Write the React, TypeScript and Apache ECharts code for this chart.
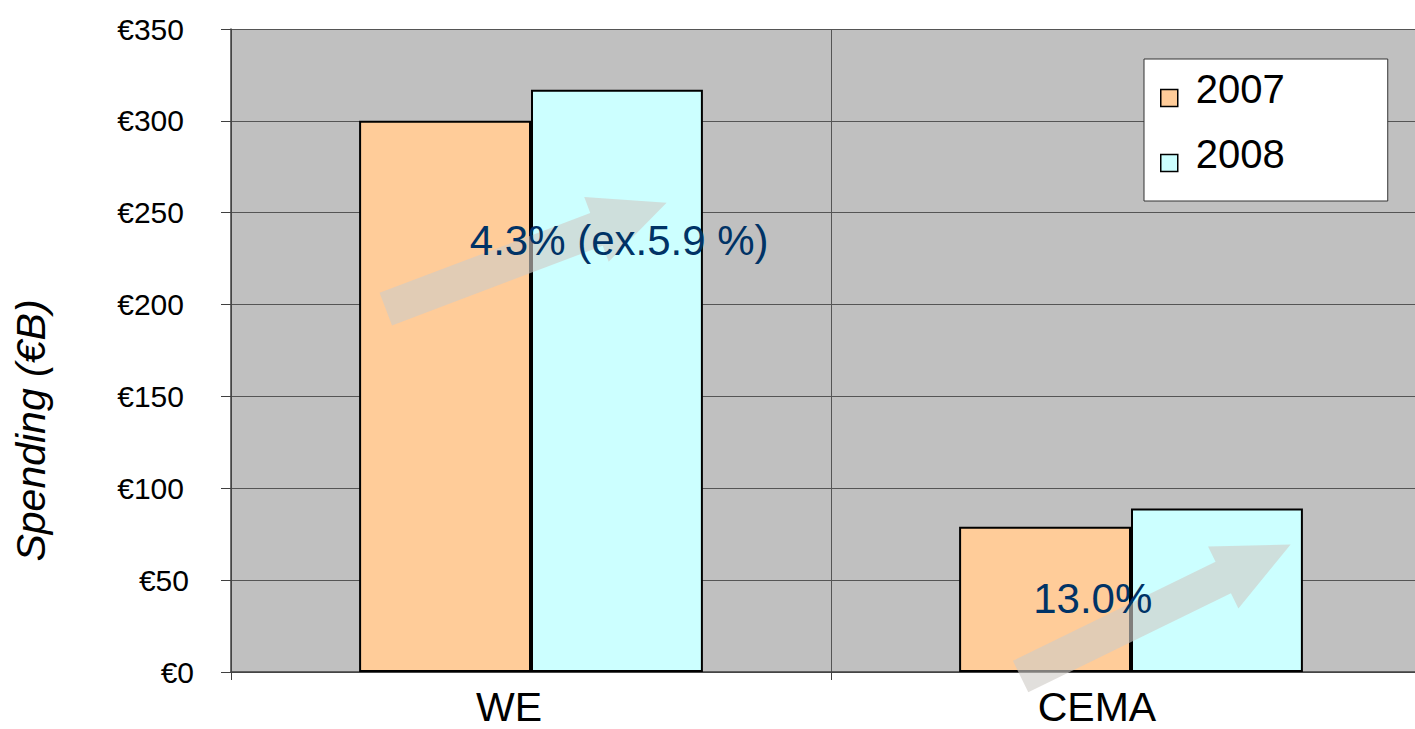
import React, { useEffect, useRef } from 'react';
import * as echarts from 'echarts';

const categories = ['WE', 'CEMA'];
const seriesNames = ['2007', '2008'];
const values2007 = [300, 79];
const values2008 = [317, 89];
const yMin = 0;
const yMax = 350;
const yInterval = 50;
const yTitle = 'Spending (€B)';
const growthLabels = ['4.3% (ex.5.9 %)', '13.0%'];
// annotation anchors: [offset within category band (fraction), value]
const labelAnchors = [[-0.102, 235], [-0.163, 40]];
const arrowTails = [[-0.242, 197.5], [-0.184, -2.5]];
const arrowTips = [[0.226, 255.4], [0.266, 69.4]];
const categoryLabelPadRight = [44, 68];

const FONT = '"Liberation Sans", Arial, Helvetica, sans-serif';

export default function App() {
  const ref = useRef<HTMLDivElement>(null);

  useEffect(() => {
    if (!ref.current) return;
    const chart = echarts.init(ref.current, null, { renderer: 'svg' });

    const catRich: Record<string, any> = {};
    categories.forEach((_, i) => {
      catRich['c' + i] = {
        fontSize: 41,
        color: '#000',
        fontFamily: FONT,
        padding: [0, categoryLabelPadRight[i], 0, 0],
      };
    });
    const yRich: Record<string, any> = {
      d1: { fontSize: 30, color: '#000', fontFamily: FONT, padding: [0, 0, 0, 0] },
      d2: { fontSize: 30, color: '#000', fontFamily: FONT, padding: [0, 5, 0, 0] },
      d3: { fontSize: 30, color: '#000', fontFamily: FONT, padding: [0, 10, 0, 0] },
    };

    const option: any = {
      animation: false,
      backgroundColor: '#ffffff',
      textStyle: { fontFamily: FONT },
      grid: {
        left: 231,
        top: 29,
        width: 1200,
        bottom: 57,
        show: true,
        backgroundColor: '#c0c0c0',
        borderWidth: 0,
        containLabel: false,
        outerBoundsMode: 'none',
      },
      legend: {
        orient: 'vertical',
        left: 1144,
        top: 59,
        backgroundColor: '#ffffff',
        borderColor: '#333333',
        borderWidth: 1,
        borderRadius: 0,
        padding: [10, 103, 9, 16],
        itemWidth: 17,
        itemHeight: 17,
        itemGap: 7,
        icon: 'rect',
        itemStyle: { borderColor: '#000', borderWidth: 1.5 },
        formatter: (name: string) => `{t|${name}}`,
        textStyle: {
          rich: {
            t: {
              fontSize: 40,
              lineHeight: 40,
              padding: [0, 0, 18, 13],
              color: '#000',
              fontFamily: FONT,
            },
          },
        },
        data: seriesNames,
      },
      xAxis: {
        type: 'category',
        data: categories,
        axisLine: { show: true, lineStyle: { color: '#404040', width: 1.5 } },
        axisTick: { show: true, length: 8, lineStyle: { color: '#404040', width: 1 } },
        splitLine: { show: true, lineStyle: { color: '#555555', width: 1 } },
        axisLabel: {
          margin: 14,
          formatter: (v: string) => `{c${categories.indexOf(v)}|${v}}`,
          rich: catRich,
        },
      },
      yAxis: {
        type: 'value',
        min: yMin,
        max: yMax,
        interval: yInterval,
        name: yTitle,
        nameLocation: 'middle',
        nameGap: 180,
        nameRotate: 90,
        nameTextStyle: {
          fontSize: 41,
          fontStyle: 'italic',
          color: '#000',
          fontFamily: FONT,
          padding: [0, 160, 0, 0],
        },
        axisLine: { show: true, lineStyle: { color: '#404040', width: 1.5 } },
        axisTick: { show: true, length: 10, lineStyle: { color: '#404040', width: 1 } },
        splitLine: { show: true, lineStyle: { color: '#555555', width: 1.2 } },
        axisLabel: {
          margin: 37,
          formatter: (v: number) => {
            const s = String(v);
            return `{d${s.length}|€${s}}`;
          },
          rich: yRich,
        },
      },
      series: [
        {
          name: seriesNames[0],
          type: 'bar',
          data: values2007,
          barGap: '0%',
          barCategoryGap: '42.7%',
          itemStyle: { color: '#ffcc99', borderColor: '#000', borderWidth: 2 },
        },
        {
          name: seriesNames[1],
          type: 'bar',
          data: values2008,
          barGap: '0%',
          barCategoryGap: '42.7%',
          itemStyle: { color: '#ccffff', borderColor: '#000', borderWidth: 2 },
        },
      ],
    };

    chart.setOption(option);

    const cx = categories.map((c) => chart.convertToPixel({ xAxisIndex: 0 }, c) as number);
    const band = cx.length > 1 ? cx[1] - cx[0] : 600;
    const px = (i: number, frac: number) => cx[i] + frac * band;
    const py = (v: number) => chart.convertToPixel({ yAxisIndex: 0 }, v) as number;

    const shaft = 35;
    const head = 69;
    const headLen = 75;
    const graphics: any[] = [];
    categories.forEach((_, i) => {
      const T = [px(i, arrowTails[i][0]), py(arrowTails[i][1])];
      const P = [px(i, arrowTips[i][0]), py(arrowTips[i][1])];
      const dx = P[0] - T[0];
      const dy = P[1] - T[1];
      const len = Math.sqrt(dx * dx + dy * dy);
      const u = [dx / len, dy / len];
      const n = [-u[1], u[0]];
      const B = [P[0] - headLen * u[0], P[1] - headLen * u[1]];
      const pt = (base: number[], k: number) => [base[0] + n[0] * k, base[1] + n[1] * k];
      graphics.push({
        type: 'polygon',
        z: 100,
        shape: {
          points: [
            pt(T, shaft / 2),
            pt(B, shaft / 2),
            pt(B, head / 2),
            P,
            pt(B, -head / 2),
            pt(B, -shaft / 2),
            pt(T, -shaft / 2),
          ],
        },
        style: { fill: 'rgba(206,203,199,0.62)' },
      });
    });
    categories.forEach((_, i) => {
      graphics.push({
        type: 'text',
        z: 110,
        x: px(i, labelAnchors[i][0]),
        y: py(labelAnchors[i][1]),
        style: {
          text: growthLabels[i],
          fontSize: 42,
          fontFamily: FONT,
          fill: '#003366',
          align: 'left',
          verticalAlign: 'middle',
        },
      });
    });
    chart.setOption({ graphic: graphics });

    return () => chart.dispose();
  }, []);

  return (
    <div
      ref={ref}
      style={{ position: 'fixed', left: 0, top: 0, width: 1415, height: 729, background: '#fff' }}
    />
  );
}
